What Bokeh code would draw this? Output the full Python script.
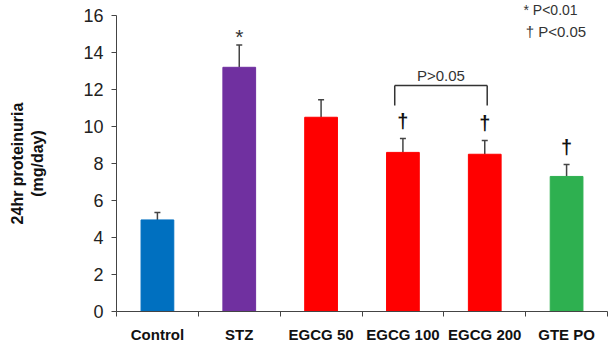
from bokeh.plotting import figure
from bokeh.models import Range1d, FixedTicker, ColumnDataSource, Whisker, TeeHead, Title
from bokeh.core.properties import value
from bokeh.embed import file_html
from bokeh.resources import INLINE

categories = ["Control", "STZ", "EGCG 50", "EGCG 100", "EGCG 200", "GTE PO"]
means = [4.95, 13.2, 10.5, 8.6, 8.5, 7.3]
errors = [0.4, 1.2, 0.95, 0.75, 0.75, 0.65]
colors = ["#0070C0", "#7030A0", "#FF0000", "#FF0000", "#FF0000", "#2EB050"]
marks = ["", "*", "", "\u2020", "\u2020", "\u2020"]
y_ticks = [0, 2, 4, 6, 8, 10, 12, 14, 16]

centers = [i + 0.5 for i in range(len(categories))]
bounds = list(range(len(categories) + 1))
tops = [m + e for m, e in zip(means, errors)]

p = figure(width=608, height=352, output_backend="svg", toolbar_location=None,
           x_range=Range1d(0, len(categories)), y_range=Range1d(0, 16),
           min_border_left=116, min_border_right=1, min_border_top=15, min_border_bottom=41)
p.outline_line_color = None
p.grid.visible = False
p.background_fill_color = "white"
p.border_fill_color = "white"

# top-right note placed in the title slot (sits above the frame like the reference)
p.title = Title(text="* P<0.01", align="left", offset=407, standoff=-5,
                text_font="Liberation Sans", text_font_size="14px", text_font_style="normal",
                text_color="#333333")

src = ColumnDataSource(dict(x=centers, top=means, lower=means, upper=tops, color=colors))
p.vbar(x="x", top="top", width=0.4, fill_color="color", line_color="color", source=src)
p.add_layout(Whisker(base="x", lower="lower", upper="upper", source=src,
                     line_color="#444444", line_width=1.5, lower_head=None,
                     upper_head=TeeHead(size=6, line_color="#444444", line_width=1.5)))

# significance marks
star_x = [c for c, m in zip(centers, marks) if m == "*"]
star_y = [t + 0.45 for t, m in zip(tops, marks) if m == "*"]
p.text(x=star_x, y=star_y, text=["*"] * len(star_x), text_align="center", text_baseline="middle",
       text_font=value("Liberation Sans"), text_font_size="21px", text_color="#333333")
dag_x = [c for c, m in zip(centers, marks) if m == "\u2020"]
dag_y = [t + 0.95 for t, m in zip(tops, marks) if m == "\u2020"]
p.text(x=dag_x, y=dag_y, text=["\u2020"] * len(dag_x), text_align="center", text_baseline="middle",
       text_font=value("Liberation Sans"), text_font_size="20px", text_font_style="bold",
       text_color="#111111")

# bracket between EGCG 100 and EGCG 200
bx0, bx1 = centers[3] - 0.1, centers[4] + 0.03
by_top, by_bot = 12.22, 11.14
p.segment(x0=[bx0, bx0, bx1], y0=[by_bot, by_top, by_top], x1=[bx0, bx1, bx1], y1=[by_top, by_top, by_bot],
          line_color="#333333", line_width=1.5)
p.text(x=[(bx0 + bx1) / 2], y=[12.76], text=["P>0.05"], text_align="center", text_baseline="middle",
       text_font=value("Liberation Sans"), text_font_size="15px", text_color="#333333")

# second note line
p.text(x=[5.0], y=[15.13], text=["\u2020 P<0.05"], text_align="left", text_baseline="middle",
       text_font=value("Liberation Sans"), text_font_size="15px", text_color="#333333")

# y axis
ya = p.yaxis[0]
ya.ticker = FixedTicker(ticks=y_ticks, minor_ticks=[])
ya.major_tick_out = 5
ya.major_tick_in = 0
ya.axis_line_color = "#444444"
ya.major_tick_line_color = "#444444"
ya.major_label_text_font = "Liberation Sans"
ya.major_label_text_font_size = "18px"
ya.major_label_text_color = "#222222"
ya.major_label_standoff = 8
ya.axis_label = "24hr proteinuria\n(mg/day)"
ya.axis_label_text_font = "Liberation Sans"
ya.axis_label_text_font_size = "16px"
ya.axis_label_text_font_style = "bold"
ya.axis_label_text_color = "#111111"
ya.axis_label_standoff = 34

# x axis
xa = p.xaxis[0]
xa.ticker = FixedTicker(ticks=centers, minor_ticks=bounds)
xa.major_label_overrides = {c: n for c, n in zip(centers, categories)}
xa.major_tick_out = 0
xa.major_tick_in = 0
xa.minor_tick_out = 5
xa.minor_tick_in = 0
xa.axis_line_color = "#444444"
xa.minor_tick_line_color = "#444444"
xa.major_label_text_font = "Liberation Sans"
xa.major_label_text_font_size = "15px"
xa.major_label_text_font_style = "bold"
xa.major_label_text_color = "#111111"
xa.major_label_standoff = 9

open("out.html", "w").write(file_html(p, INLINE))
